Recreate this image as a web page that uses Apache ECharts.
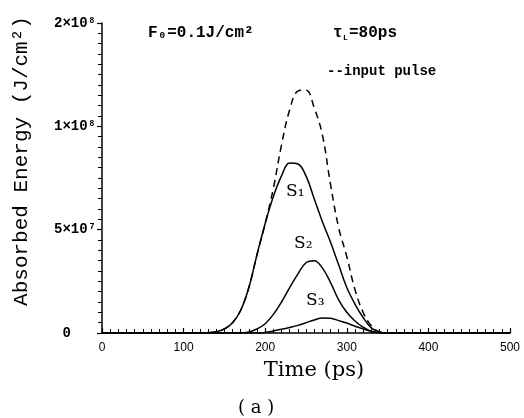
<!DOCTYPE html>
<html>
<head>
<meta charset="utf-8">
<script src="https://cdn.jsdelivr.net/npm/echarts@6/dist/echarts.min.js"></script>
<style>
html,body{margin:0;padding:0;background:#fff;}
#chart{width:524px;height:418px;}
</style>
</head>
<body>
<div id="chart"></div>
<script>
// Time (ps)
const times = [0,100,120,130,140,150,160,170,180,190,200,210,220,230,240,250,260,270,280,290,300,310,320,330,340,350,400,500];
// Values in units of 1e7 J/cm^2
const inputPulse = [0,0,0,0.02,0.06,0.2,0.5,1.1,2.2,3.8,5.3,7.0,9.1,10.8,11.7,11.75,10.9,9.6,7.2,5.1,3.7,2.1,1.0,0.35,0.05,0,0,0];
const s1 = [0,0,0,0.02,0.06,0.2,0.5,1.1,2.2,3.8,5.3,6.6,7.6,8.22,8.18,7.6,6.5,5.4,4.4,3.3,2.2,1.4,0.75,0.25,0.05,0,0,0];
const s2 = [0,0,0,0,0,0,0,0.01,0.05,0.2,0.45,0.9,1.5,2.2,2.85,3.4,3.5,3.15,2.45,1.6,1.0,0.58,0.28,0.08,0.01,0,0,0];
const s3 = [0,0,0,0,0,0,0,0,0,0,0.03,0.1,0.18,0.27,0.37,0.5,0.63,0.72,0.71,0.6,0.48,0.33,0.2,0.08,0.01,0,0,0];
const unit = 1e7;
// Y tick labels as printed in the original figure
const yTickLabels = ['0   ','5×10⁷','1×10⁸','2×10⁸'];

const toPairs = arr => times.map((t,i)=>[t, arr[i]*unit]);
const chart = echarts.init(document.getElementById('chart'));
const mono = "'Liberation Mono','DejaVu Sans Mono',monospace";
const serif = "'DejaVu Serif',serif";
const lineBase = {type:'line', showSymbol:false, smooth:0.4, silent:true, z:3};
const note = (text, left, top, size, family, weight) => ({
  text, left, top, padding:0,
  textStyle:{color:'#000', fontSize:size, fontFamily:family, fontWeight:weight || 'normal'}
});

chart.setOption({
  animation:false,
  backgroundColor:'#ffffff',
  title:[
    note('F₀=0.1J/cm²', 148, 25, 16, mono, 'bold'),
    note('τ', 333, 25, 16, mono, 'bold'),
    note('L', 343, 34, 8, mono, 'bold'),
    note('=80ps', 349, 25, 16, mono, 'bold'),
    note('--input pulse', 327, 64, 14, mono, 'bold'),
    note('S₁', 286, 183, 17, serif),
    note('S₂', 294, 235, 17, serif),
    note('S₃', 306, 292, 17, serif),
    note('( a )', 238, 399, 18, serif)
  ],
  grid:{left:102, right:14, top:23, bottom:85},
  xAxis:{
    type:'value', min:0, max:500, interval:100, position:'bottom',
    name:'Time (ps)', nameLocation:'middle', nameGap:27,
    nameTextStyle:{color:'#000', fontSize:21, fontFamily:serif, padding:[0,0,0,16]},
    axisLine:{show:true, onZero:false, lineStyle:{color:'#000', width:1.5}},
    axisTick:{show:true, inside:true, length:5, lineStyle:{color:'#000', width:1.2}},
    minorTick:{show:true, splitNumber:10, length:4, lineStyle:{color:'#000', width:1}},
    splitLine:{show:false},
    axisLabel:{margin:9, color:'#000', fontSize:12}
  },
  yAxis:{
    type:'value', min:0, max:1.5e8, interval:5e7, position:'left',
    name:'Absorbed Energy (J/cm²)', nameLocation:'middle', nameGap:70,
    nameTextStyle:{color:'#000', fontSize:21, fontFamily:"'Liberation Mono',monospace", padding:[0,0,0,34]},
    axisLine:{show:true, onZero:false, lineStyle:{color:'#000', width:1.5}},
    axisTick:{show:true, inside:false, length:5, lineStyle:{color:'#000', width:1.2}},
    minorTick:{show:true, splitNumber:10, length:4, lineStyle:{color:'#000', width:1}},
    splitLine:{show:false},
    axisLabel:{margin:6, color:'#000', fontSize:14, fontWeight:'bold', fontFamily:mono,
      formatter:(v)=>{ const k = Math.round(v/5e7); return (k>=0 && k<yTickLabels.length) ? yTickLabels[k] : ''; }}
  },
  series:[
    Object.assign({name:'input pulse', data:toPairs(inputPulse), lineStyle:{color:'#000', width:1.5, type:[7,5]}}, lineBase),
    Object.assign({name:'S1', data:toPairs(s1), lineStyle:{color:'#000', width:1.5}}, lineBase),
    Object.assign({name:'S2', data:toPairs(s2), lineStyle:{color:'#000', width:1.5}}, lineBase),
    Object.assign({name:'S3', data:toPairs(s3), lineStyle:{color:'#000', width:1.5}}, lineBase)
  ]
});
</script>
</body>
</html>
